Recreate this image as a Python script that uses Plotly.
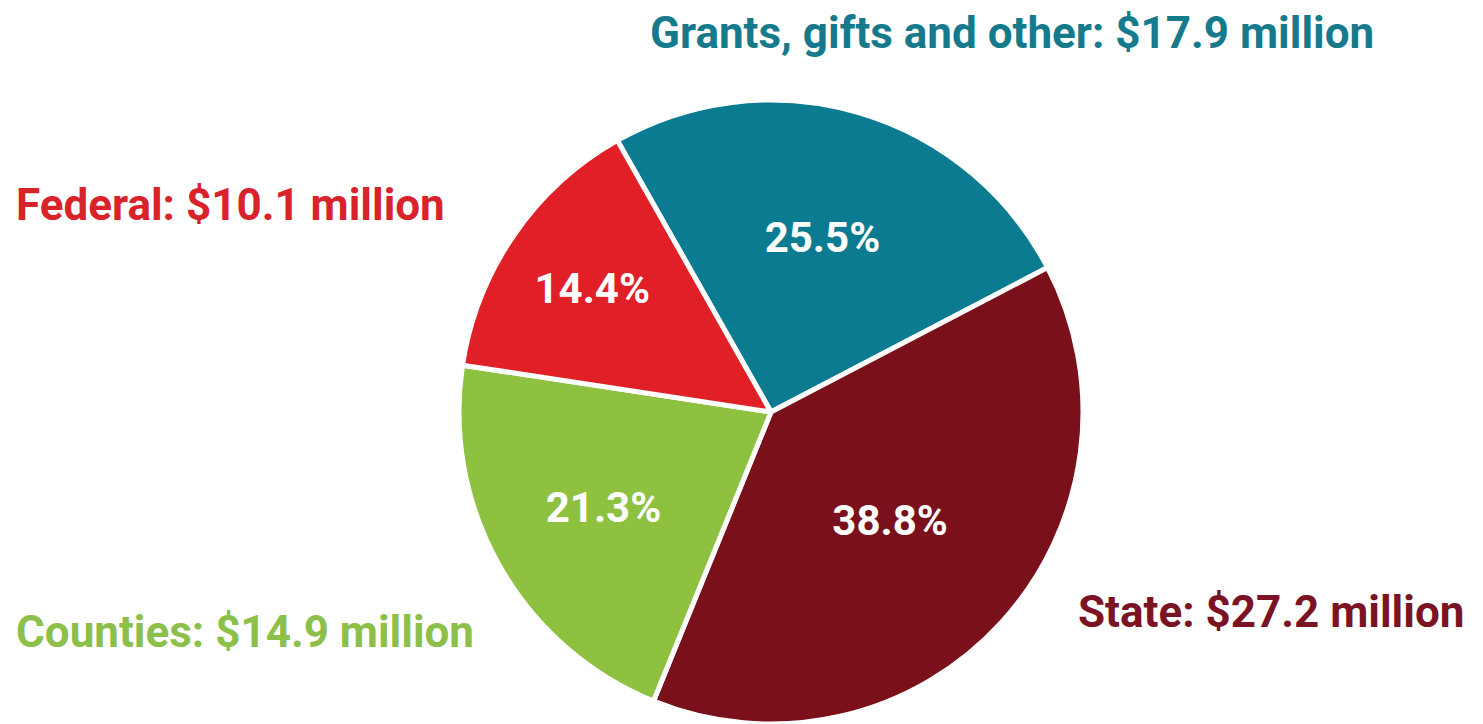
import plotly.graph_objects as go

categories = ["Grants, gifts and other", "State", "Counties", "Federal"]
values_millions = [17.9, 27.2, 14.9, 10.1]
slice_colors = ["#0A7B91", "#7A101A", "#8DC13F", "#E11F27"]
label_colors = ["#157A8C", "#7A1424", "#8CC04A", "#D9232B"]

W, H = 1483, 724
cx, cy, r = 771, 412, 312  # pixel centre/radius of pie

fig = go.Figure(go.Pie(
    labels=categories,
    values=values_millions,
    sort=False,
    direction="clockwise",
    rotation=-29.5,
    marker=dict(colors=slice_colors, line=dict(color="white", width=5)),
    textinfo="percent",
    texttemplate="%{percent:.1%}",
    textposition="inside",
    insidetextorientation="horizontal",
    textfont=dict(family="Roboto", size=42, color="white", weight="bold"),
    hoverinfo="label+value+percent",
    domain=dict(x=[(cx - r) / W, (cx + r) / W], y=[(H - cy - r) / H, (H - cy + r) / H]),
    showlegend=False,
))

label_pos = [
    dict(x=1012 / W, y=1 - 33 / H, xanchor="center"),
    dict(x=1466 / W, y=1 - 612 / H, xanchor="right"),
    dict(x=14 / W, y=1 - 632 / H, xanchor="left"),
    dict(x=14 / W, y=1 - 205 / H, xanchor="left"),
]
for cat, val, col, pos in zip(categories, values_millions, label_colors, label_pos):
    fig.add_annotation(
        text=f"{cat}: ${val} million",
        xref="paper", yref="paper", x=pos["x"], y=pos["y"],
        xanchor=pos["xanchor"], yanchor="middle", showarrow=False,
        font=dict(family="Roboto", size=44, color=col, weight="bold"),
    )

fig.update_layout(
    width=W, height=H,
    margin=dict(l=0, r=0, t=0, b=0),
    paper_bgcolor="white", plot_bgcolor="white",
)
fig.write_html(
    "out.html",
    config={"displayModeBar": False},
    post_script="document.body.style.margin='0';document.body.style.overflow='hidden';",
)
